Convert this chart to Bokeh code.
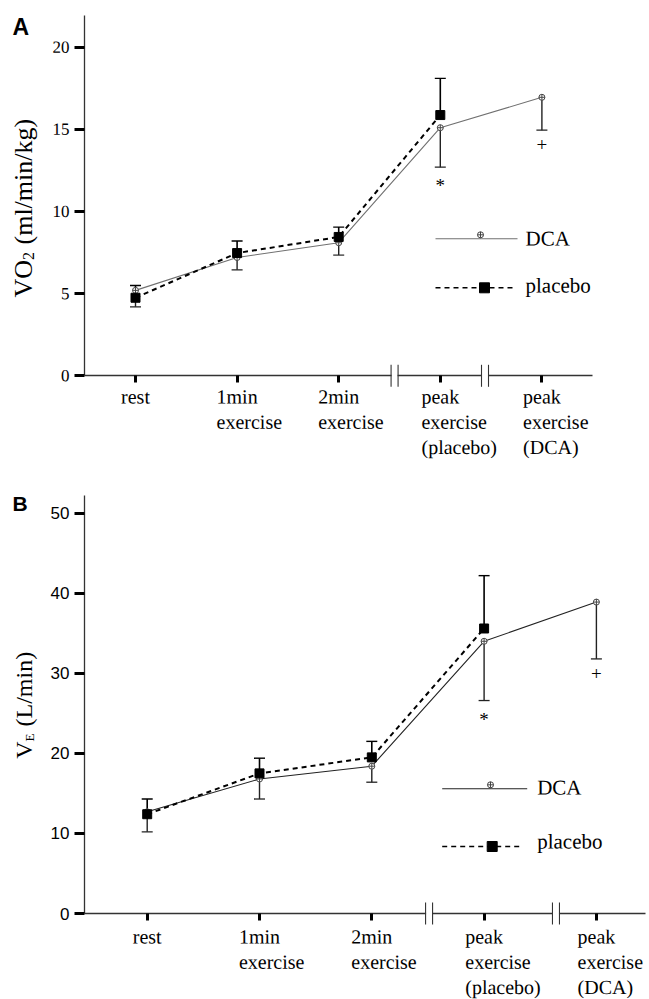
import math
from bokeh.plotting import figure
from bokeh.models import Range1d, FixedTicker, Label
from bokeh.layouts import column
from bokeh.embed import file_html
from bokeh.resources import INLINE
from bokeh.core.properties import value

# ---------------- data ----------------
categories = ["rest", "1min\nexercise", "2min\nexercise",
              "peak\nexercise\n(placebo)", "peak\nexercise\n(DCA)"]
x_dca = [0, 1, 2, 3, 4]
x_pla = [0, 1, 2, 3]
series_names = ["DCA", "placebo"]

# Panel A: VO2 (ml/min/kg)
vo2_dca = [5.2, 7.2, 8.1, 15.1, 16.95]
vo2_dca_lo = [4.2, 6.45, 7.35, 12.7, 14.95]
vo2_pla = [4.75, 7.47, 8.45, 15.87]
vo2_pla_hi = [5.5, 8.2, 9.05, 18.1]
vo2_ticks = [0, 5, 10, 15, 20]

# Panel B: VE (L/min)
ve_dca = [12.7, 16.8, 18.4, 34.0, 38.9]
ve_dca_lo = [10.2, 14.3, 16.4, 26.6, 31.8]
ve_pla = [12.4, 17.5, 19.5, 35.6]
ve_pla_hi = [14.3, 19.4, 21.5, 42.2]
ve_ticks = [0, 10, 20, 30, 40, 50]

sig_idx = [3, 4]
sig_text = ["*", "+"]

SERIF = "Liberation Serif"
SANS = "Liberation Sans"

# approximate Times advance widths (em) for centring the first label line
TW = {"r": .333, "e": .444, "s": .389, "t": .278, "1": .5, "2": .5, "m": .778,
      "i": .278, "n": .5, "p": .5, "a": .444, "k": .5}


def text_w(s, size):
    return sum(TW.get(c, .5) for c in s) * size


class G:
    def __init__(self, **kw):
        self.__dict__.update(kw)


# geometry in page pixels: canvas top, size, pixel of data zero, pixels per unit
GA = G(W=647, H=480, top=0, zx=135.0, sx=101.6, zy=375.3, sy=16.43,
       axis_l=84, axis_r=592, axis_t=15, breaks=[2.55, 3.44], lab_top=385,
       leg=[(435, 517, 238.3, 480, 525, 238), (435, 512, 287.3, 484, 525, 285)])
GB = G(W=647, H=519, top=480, zx=146.7, sx=112.3, zy=913.0, sy=8.006,
       axis_l=84, axis_r=645, axis_t=495, breaks=[2.51, 3.64], lab_top=925,
       leg=[(441.7, 526.7, 788.3, 490, 536.7, 787), (441.7, 520, 846, 491.7, 536.7, 841)])


def to_data(g, px, py):
    return (px - g.zx) / g.sx, (g.zy - py) / g.sy


def serif_label(p, x, y, text, size, align="left", x_offset=0, angle=0.001, font=SERIF,
                style="normal", lh=1.2, baseline="alphabetic"):
    p.add_layout(Label(x=x, y=y, text=text, text_font=font, text_font_size=f"{size}px",
                       text_font_style=style, text_align=align, x_offset=x_offset,
                       text_baseline=baseline, angle=angle, text_color="black",
                       text_line_height=lh))


def make_panel(g, dca, dca_lo, pla, pla_hi, ticks, serif_ticks, dca_color,
               letter, letter_pos, letter_size, ylabel_parts):
    x_start, y_end = to_data(g, 0, g.top)
    x_end, y_start = to_data(g, g.W, g.top + g.H)
    p = figure(width=g.W, height=g.H, x_range=Range1d(x_start, x_end),
               y_range=Range1d(y_start, y_end), output_backend="svg",
               toolbar_location=None, min_border=0, frame_align=False)
    p.outline_line_color = None
    p.grid.visible = False
    p.background_fill_color = "white"
    p.border_fill_color = "white"

    xl, yt = to_data(g, g.axis_l, g.axis_t)
    xr, _ = to_data(g, g.axis_r, g.axis_t)

    # axes
    xa = p.xaxis[0]
    xa.fixed_location = 0
    xa.bounds = (xl, xr)
    xa.ticker = FixedTicker(ticks=x_dca)
    xa.major_label_overrides = {i: "" for i in x_dca}
    xa.major_tick_out = 7
    xa.major_tick_in = 0
    xa.major_tick_line_width = 3
    xa.major_tick_line_color = "black"
    xa.minor_tick_line_color = None
    xa.axis_line_width = 1.3
    xa.axis_line_color = "#333333"

    ya = p.yaxis[0]
    ya.fixed_location = xl
    ya.bounds = (0, yt)
    ya.ticker = FixedTicker(ticks=ticks)
    ya.major_tick_out = 10
    ya.major_tick_in = 0
    ya.major_tick_line_width = 3
    ya.major_tick_line_color = "black"
    ya.minor_tick_line_color = None
    ya.axis_line_width = 1.3
    ya.axis_line_color = "#333333"
    ya.major_label_text_font = SANS
    ya.major_label_text_font_size = "17px"
    ya.major_label_text_color = "black"
    ya.major_label_standoff = 5

    # category labels under the x axis (first line centred on the tick, lines left-aligned)
    _, ytop = to_data(g, 0, g.lab_top)
    for xi, cat in zip(x_dca, categories):
        first = cat.split("\n")[0]
        serif_label(p, xi, ytop, cat, 20, align="left", x_offset=-text_w(first, 20) / 2,
                    lh=1.15, baseline="top")

    if serif_ticks:
        ya.major_label_overrides = {t: "" for t in ticks}
        for t in ticks:
            serif_label(p, xl, t, str(t), 17, align="right", x_offset=-15)

    # error bars (placebo up, DCA down)
    p.segment(x0=x_pla, y0=pla, x1=x_pla, y1=pla_hi, line_color="black", line_width=1.6)
    p.scatter(x=x_pla, y=pla_hi, marker="dash", size=11, line_color="black", line_width=1.4)
    p.segment(x0=x_dca, y0=dca, x1=x_dca, y1=dca_lo, line_color="#222222", line_width=1.4)
    p.scatter(x=x_dca, y=dca_lo, marker="dash", size=11, line_color="#222222", line_width=1.3)

    # lines and markers
    p.line(x_dca, dca, line_color=dca_color, line_width=1.1)
    p.line(x_pla, pla, line_color="black", line_width=2, line_dash="5 4")
    p.scatter(x_dca, dca, marker="circle_cross", size=6, line_color="#444444",
              fill_color="white", line_width=1)
    p.scatter(x_pla, pla, marker="square", size=9, fill_color="black", line_color="black")

    # significance marks under DCA error bars
    sxs = [x_dca[i] for i in sig_idx]
    sys_ = [dca_lo[i] for i in sig_idx]
    p.text(x=sxs, y=sys_, text=sig_text, text_font=value(SERIF), text_font_size="19px",
           text_align="center", text_baseline="top", y_offset=8, text_color="black")

    # axis breaks
    d = 3.5 / g.sx
    h = 11.0 / g.sy
    p.rect(x=g.breaks, y=[0] * len(g.breaks), width=6, height=5, width_units="screen",
           height_units="screen", fill_color="white", line_color=None, level="overlay")
    bx0 = [b - d for b in g.breaks] + [b + d for b in g.breaks]
    p.segment(x0=bx0, y0=[-h] * len(bx0), x1=bx0, y1=[h] * len(bx0),
              line_color="#333333", line_width=1.1, level="overlay")

    # legend keys
    (a0, a1, ay, am, atx, aty), (b0, b1, by, bm, btx, bty) = g.leg
    xa0, ya0 = to_data(g, a0, ay)
    xa1, _ = to_data(g, a1, ay)
    xam, yam = to_data(g, am, ay - 4)
    p.line([xa0, xa1], [ya0, ya0], line_color=dca_color, line_width=1.1)
    p.scatter([xam], [yam], marker="circle_cross", size=6, line_color="#444444",
              fill_color="white", line_width=1)
    tx, ty = to_data(g, atx, aty)
    serif_label(p, tx, ty, series_names[0], 21)

    xb0, yb0 = to_data(g, b0, by)
    xb1, _ = to_data(g, b1, by)
    xbm, _ = to_data(g, bm, by)
    p.line([xb0, xb1], [yb0, yb0], line_color="black", line_width=1.6, line_dash="5 4")
    p.scatter([xbm], [yb0], marker="square", size=10, fill_color="black", line_color="black")
    tx, ty = to_data(g, btx, bty)
    serif_label(p, tx, ty, series_names[1], 21)

    # panel letter
    lx_, ly_ = to_data(g, *letter_pos)
    serif_label(p, lx_, ly_, letter, letter_size, font=SANS, style="bold", angle=0.0)

    # rotated y-axis label pieces
    for txt, px, py, fs in ylabel_parts:
        xx, yy = to_data(g, px, py)
        serif_label(p, xx, yy, txt, fs, angle=math.pi / 2)
    return p


pA = make_panel(GA, vo2_dca, vo2_dca_lo, vo2_pla, vo2_pla_hi, vo2_ticks, True, "#707070",
                "A", (12, 26), 23,
                [("VO", 23, 297, 26), ("2", 28, 259.5, 16), ("(ml/min/kg)", 23, 244, 26)])
pB = make_panel(GB, ve_dca, ve_dca_lo, ve_pla, ve_pla_hi, ve_ticks, False, "#222222",
                "B", (12, 503), 21,
                [("V", 23, 758.3, 24), ("E", 29, 741, 13), ("(L/min)", 23, 726, 24)])

layout = column(pA, pB)
open("out.html", "w").write(file_html(layout, INLINE))
